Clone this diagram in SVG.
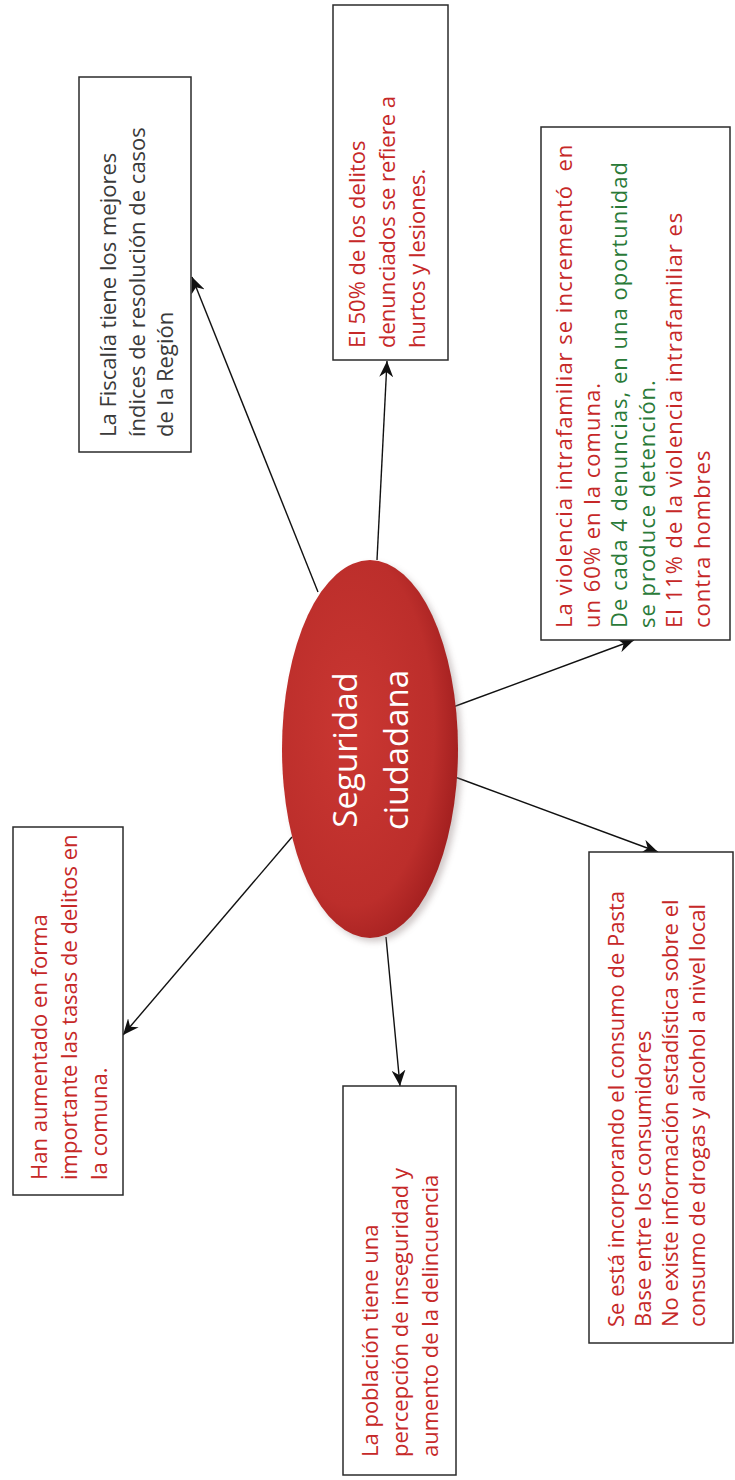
<svg xmlns="http://www.w3.org/2000/svg" width="735" height="1480" viewBox="0 0 735 1480">
<style>
.box{fill:#fff;stroke:#2b2b2b;stroke-width:1.5}
.t{font-family:"Open Sans","Liberation Sans",sans-serif;font-size:22px}
.red{fill:#c62828}
.green{fill:#2a7a38}
.gray{fill:#3a3a3a}
.conn{stroke:#111;stroke-width:1.4;fill:none;marker-end:url(#ah)}
.title{font-family:"Open Sans","Liberation Sans",sans-serif;font-size:33px;fill:#fff;text-anchor:middle}
</style>
<defs>
<marker id="ah" markerUnits="userSpaceOnUse" markerWidth="18" markerHeight="14" refX="16" refY="7" orient="auto"><path d="M0,0 L16,7 L0,14 L5,7 Z" fill="#111"/></marker>
<radialGradient id="eg" cx="0.4" cy="0.45" r="0.62">
<stop offset="0" stop-color="#ca3732"/><stop offset="0.75" stop-color="#bc2e2b"/><stop offset="1" stop-color="#a21f1f"/></radialGradient>
<filter id="sh" x="-20%" y="-20%" width="140%" height="140%"><feGaussianBlur stdDeviation="3"/></filter>
</defs>
<rect width="735" height="1480" fill="#fff"/>
<g id="connectors">
<line class="conn" x1="318" y1="592" x2="192" y2="277"/>
<line class="conn" x1="377" y1="560" x2="387" y2="361"/>
<line class="conn" x1="453" y1="707" x2="634" y2="640"/>
<line class="conn" x1="455" y1="777" x2="658" y2="852"/>
<line class="conn" x1="386" y1="937" x2="400" y2="1086"/>
<line class="conn" x1="292" y1="837" x2="123" y2="1035"/>
</g>
<g id="center">
<ellipse cx="374" cy="753" rx="88" ry="189" fill="#9a8a8a" opacity="0.45" filter="url(#sh)"/>
<ellipse cx="370" cy="749" rx="88" ry="189" fill="url(#eg)"/>
<g transform="translate(357,750) rotate(-90)">
<text class="title" x="0" y="0">Seguridad</text>
<text class="title" x="0" y="51">ciudadana</text>
</g>
</g>
<g id="fiscalia">
<rect class="box" x="79" y="77" width="112" height="375"/>
<g class="t gray" transform="translate(116,437) rotate(-90)">
<text x="0" y="0">La Fiscalía tiene los mejores</text>
<text x="0" y="29">índices de resolución de casos</text>
<text x="0" y="57">de la Región</text>
</g>
</g>
<g id="delitos50">
<rect class="box" x="333" y="5" width="115" height="355"/>
<g class="t red" transform="translate(365,348) rotate(-90)">
<text x="0" y="0">El 50% de los delitos</text>
<text x="0" y="30">denunciados se refiere a</text>
<text x="0" y="60">hurtos y lesiones.</text>
</g>
</g>
<g id="violencia">
<rect class="box" x="541" y="127" width="189" height="513"/>
<g class="t" letter-spacing="1" transform="translate(572,628) rotate(-90)">
<text class="red" x="0" y="0" xml:space="preserve">La violencia intrafamiliar se incrementó  en</text>
<text class="red" x="0" y="27.6">un 60% en la comuna.</text>
<text class="green" x="0" y="55.2">De cada 4 denuncias, en una oportunidad</text>
<text class="green" x="0" y="82.8">se produce detención.</text>
<text class="red" x="0" y="110.4">El 11% de la violencia intrafamiliar es</text>
<text class="red" x="0" y="138">contra hombres</text>
</g>
</g>
<g id="aumento">
<rect class="box" x="13" y="827" width="110" height="368"/>
<g class="t red" transform="translate(47,1180) rotate(-90)">
<text x="0" y="0">Han aumentado en forma</text>
<text x="0" y="30">importante las tasas de delitos en</text>
<text x="0" y="60">la comuna.</text>
</g>
</g>
<g id="poblacion">
<rect class="box" x="343" y="1086" width="113" height="389"/>
<g class="t red" transform="translate(378,1457) rotate(-90)">
<text x="0" y="0">La población tiene una</text>
<text x="0" y="30">percepción de inseguridad y</text>
<text x="0" y="60">aumento de la delincuencia</text>
</g>
</g>
<g id="drogas">
<rect class="box" x="589" y="852" width="144" height="491"/>
<g class="t red" transform="translate(624,1327) rotate(-90)">
<text x="0" y="0">Se está incorporando el consumo de Pasta</text>
<text x="0" y="27">Base entre los consumidores</text>
<text x="0" y="54">No existe información estadística sobre el</text>
<text x="0" y="81">consumo de drogas y alcohol a nivel local</text>
</g>
</g>
</svg>
